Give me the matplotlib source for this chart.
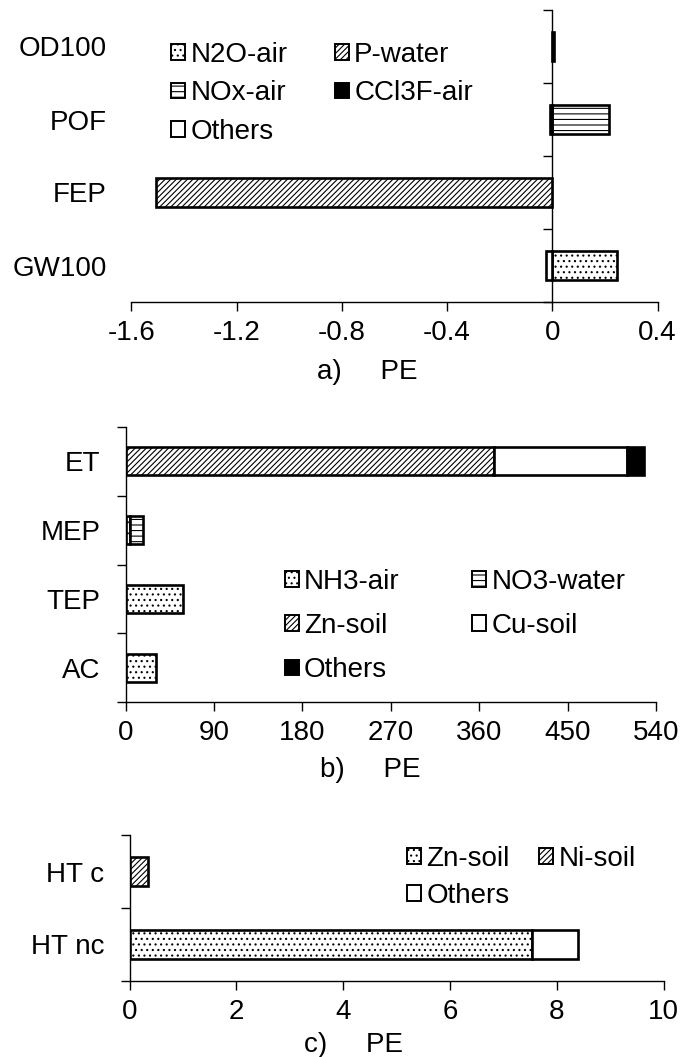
import matplotlib
matplotlib.use("Agg")
import matplotlib.pyplot as plt
import numpy as np

plt.rcParams['font.family'] = ['Liberation Sans', 'DejaVu Sans']
plt.rcParams['font.size'] = 20
plt.rcParams['hatch.color'] = 'black'
plt.rcParams['hatch.linewidth'] = 0.8

# ---------------- data ----------------
# panel a
cats_a = ["GW100", "FEP", "POF", "OD100"]
n2o_air = [0.247, 0.0, 0.0, 0.0]
p_water = [0.0, -1.505, 0.0, 0.0]
nox_air = [0.0, 0.0, 0.215, 0.0]
ccl3f_air = [0.0, 0.0, 0.0, 0.006]
others_a = [-0.025, 0.0, -0.007, 0.0]
xticks_a = [-1.6, -1.2, -0.8, -0.4, 0, 0.4]
xticklabels_a = ["-1.6", "-1.2", "-0.8", "-0.4", "0", "0.4"]

# panel b
cats_b = ["AC", "TEP", "MEP", "ET"]
nh3_air = [30.6, 58.5, 4.3, 0.0]
no3_water = [0.0, 0.0, 13.5, 0.0]
zn_soil_b = [0.0, 0.0, 0.0, 375.0]
cu_soil = [0.0, 0.0, 0.0, 135.0]
others_b = [0.0, 0.0, 0.0, 18.0]
xticks_b = [0, 90, 180, 270, 360, 450, 540]

# panel c
cats_c = ["HT nc", "HT c"]
zn_soil_c = [7.53, 0.0]
ni_soil = [0.0, 0.35]
others_c = [0.86, 0.0]
xticks_c = [0, 2, 4, 6, 8, 10]

# ---------------- styles ----------------
DOT = dict(facecolor='white', hatch='...')
DIAG = dict(facecolor='white', hatch='//////')
HORZ = dict(facecolor='white', hatch='---')
BLACK = dict(facecolor='black', hatch=None)
WHITE = dict(facecolor='white', hatch=None)

W, H = 680, 1057
fig = plt.figure(figsize=(W / 100, H / 100), dpi=100)


def rect(l, r, t, b):
    return [l / W, (H - b) / H, (r - l) / W, (b - t) / H]


def stacked(ax, cats, series, height=0.41):
    y = np.arange(len(cats))
    pos = np.zeros(len(cats))
    neg = np.zeros(len(cats))
    handles = []
    for label, vals, st in series:
        vals = np.asarray(vals, dtype=float)
        left = np.where(vals >= 0, pos, neg)
        mask = vals != 0
        ax.barh(y[mask], vals[mask], left=left[mask], height=height,
                edgecolor='black', linewidth=1.9, **st)
        pos = pos + np.where(vals > 0, vals, 0)
        neg = neg + np.where(vals < 0, vals, 0)
        h = plt.Rectangle((0, 0), 1, 1, edgecolor='black', linewidth=1.4, **st)
        handles.append((h, label))
    return handles


def style_axes(ax, cats, xlim, xticks, xticklabels, zero_frac, ypad):
    n = len(cats)
    ax.set_xlim(*xlim)
    ax.set_ylim(-0.5, n - 0.5)
    for s in ['top', 'right', 'left']:
        ax.spines[s].set_visible(False)
    ax.spines['bottom'].set_linewidth(1.0)
    ax.set_xticks(xticks)
    ax.set_xticklabels(xticklabels)
    ax.tick_params(axis='x', direction='out', length=6.5, width=1.0, pad=6.5)
    ax.set_yticks(np.arange(n))
    ax.set_yticklabels(cats)
    ax.tick_params(axis='y', length=0, pad=ypad)
    sec = ax.secondary_yaxis(zero_frac)
    sec.set_alignment('left')
    sec.set_yticks(np.arange(n + 1) - 0.5)
    sec.set_yticklabels([''] * (n + 1))
    sec.tick_params(axis='y', direction='out', length=6.5, width=1.0)
    sec.spines['left'].set_linewidth(1.0)
    sec.spines['right'].set_visible(False)


def legend(ax, handles, order, anchor, colsp, labsp):
    hs = [handles[i][0] for i in order]
    ls = [handles[i][1] for i in order]
    ax.legend(hs, ls, loc='upper left', bbox_to_anchor=anchor, ncol=2,
              frameon=False, borderpad=0, borderaxespad=0,
              handlelength=0.5, handleheight=0.5, handletextpad=0.2,
              columnspacing=colsp, labelspacing=labsp, fontsize=20)


# ---------------- panel a ----------------
ax_a = fig.add_axes(rect(131.5, 657.5, 10, 302))
h_a = stacked(ax_a, cats_a, [("N2O-air", n2o_air, DOT), ("P-water", p_water, DIAG),
                             ("NOx-air", nox_air, HORZ), ("CCl3F-air", ccl3f_air, BLACK),
                             ("Others", others_a, WHITE)])
style_axes(ax_a, cats_a, (-1.6, 0.4), xticks_a, xticklabels_a, 0.8, 18.0)
legend(ax_a, h_a, [0, 2, 4, 1, 3], (0.075, 0.89), 1.7, 0.44)
ax_a.text(0.449, -0.265, "a)     PE", transform=ax_a.transAxes,
          ha='center', va='baseline')

# ---------------- panel b ----------------
ax_b = fig.add_axes(rect(125.5, 656, 427, 702))
h_b = stacked(ax_b, cats_b, [("NH3-air", nh3_air, DOT), ("NO3-water", no3_water, HORZ),
                             ("Zn-soil", zn_soil_b, DIAG), ("Cu-soil", cu_soil, WHITE),
                             ("Others", others_b, BLACK)])
style_axes(ax_b, cats_b, (0, 540), xticks_b, [str(v) for v in xticks_b], 0.0, 18.0)
legend(ax_b, h_b, [0, 2, 4, 1, 3], (0.30, 0.485), 2.6, 0.66)
ax_b.text(0.461, -0.271, "b)     PE", transform=ax_b.transAxes,
          ha='center', va='baseline')

# ---------------- panel c ----------------
ax_c = fig.add_axes(rect(129.5, 663.5, 835, 981))
h_c = stacked(ax_c, cats_c, [("Zn-soil", zn_soil_c, DOT), ("Ni-soil", ni_soil, DIAG),
                             ("Others", others_c, WHITE)])
style_axes(ax_c, cats_c, (0, 10), xticks_c, [str(v) for v in xticks_c], 0.0, 18.0)
legend(ax_c, h_c, [0, 2, 1], (0.52, 0.925), 1.05, 0.4)
ax_c.text(0.420, -0.483, "c)     PE", transform=ax_c.transAxes,
          ha='center', va='baseline')

fig.savefig("out.png", dpi=100)
